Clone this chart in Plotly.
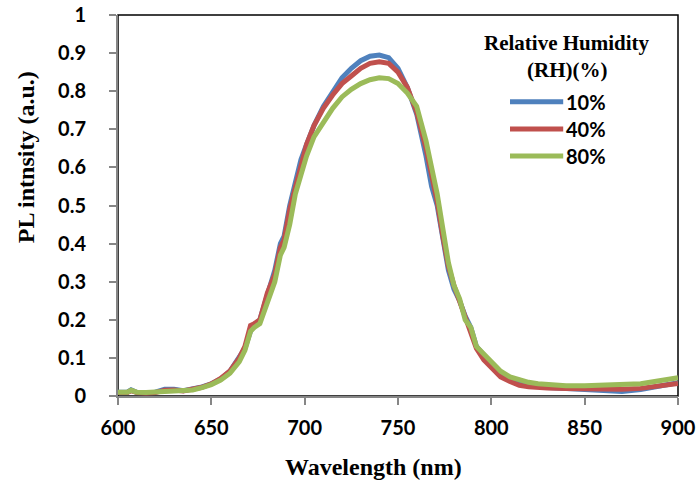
import plotly.graph_objects as go

# wavelength grid (nm)
wl = [600, 605, 607, 610, 615, 620, 625, 630, 635, 640, 645, 650, 655, 660, 665, 668,
      671, 673, 676, 680, 684, 687, 689, 692, 695, 698, 701, 705, 710, 715, 720, 725,
      730, 735, 740, 745, 750, 755, 760, 765, 768, 771, 774, 777, 780, 783, 786, 789,
      792, 796, 800, 805, 810, 815, 820, 825, 830, 840, 850, 860, 870, 880, 890, 900]

# PL intensity (a.u.) for each relative humidity
rh10 = [0.010, 0.010, 0.016, 0.010, 0.009, 0.010, 0.018, 0.018, 0.014, 0.018, 0.024, 0.032,
        0.045, 0.065, 0.100, 0.125, 0.170, 0.185, 0.200, 0.270, 0.330, 0.400, 0.420, 0.500,
        0.560, 0.620, 0.660, 0.710, 0.760, 0.800, 0.835, 0.860, 0.880, 0.892, 0.895, 0.888,
        0.860, 0.810, 0.740, 0.630, 0.550, 0.500, 0.410, 0.330, 0.280, 0.250, 0.210, 0.180,
        0.130, 0.105, 0.085, 0.060, 0.045, 0.035, 0.030, 0.025, 0.022, 0.020, 0.018, 0.013,
        0.012, 0.017, 0.025, 0.035]
rh40 = [0.009, 0.009, 0.014, 0.009, 0.008, 0.009, 0.015, 0.016, 0.013, 0.017, 0.023, 0.032,
        0.046, 0.066, 0.100, 0.130, 0.185, 0.190, 0.200, 0.270, 0.320, 0.390, 0.410, 0.490,
        0.550, 0.610, 0.660, 0.710, 0.755, 0.790, 0.820, 0.840, 0.860, 0.873, 0.877, 0.873,
        0.850, 0.810, 0.745, 0.650, 0.580, 0.510, 0.420, 0.340, 0.290, 0.250, 0.210, 0.170,
        0.125, 0.095, 0.075, 0.050, 0.038, 0.028, 0.024, 0.022, 0.021, 0.020, 0.019, 0.018,
        0.018, 0.020, 0.025, 0.033]
rh80 = [0.010, 0.010, 0.015, 0.010, 0.009, 0.010, 0.014, 0.015, 0.013, 0.016, 0.022, 0.030,
        0.042, 0.060, 0.090, 0.120, 0.170, 0.180, 0.190, 0.250, 0.300, 0.370, 0.390, 0.450,
        0.530, 0.580, 0.630, 0.680, 0.720, 0.755, 0.785, 0.805, 0.820, 0.830, 0.835, 0.833,
        0.820, 0.795, 0.760, 0.670, 0.600, 0.530, 0.440, 0.350, 0.290, 0.255, 0.200, 0.180,
        0.130, 0.110, 0.090, 0.065, 0.050, 0.042, 0.036, 0.032, 0.030, 0.027, 0.027, 0.028,
        0.029, 0.032, 0.040, 0.048]

labels = ['10%', '40%', '80%']
colors = ['#4F81BD', '#C0504D', '#9BBB59']

fig = go.Figure()
for ys, name, c in zip([rh10, rh40, rh80], labels, colors):
    fig.add_trace(go.Scatter(x=wl, y=ys, mode='lines', name=name,
                             line=dict(color=c, width=5), showlegend=False))

tickfont = dict(family='Lato', size=20, color='black', weight='bold')
titlefont = dict(family='Liberation Serif', size=24, color='black', weight='bold')

fig.update_xaxes(range=[600, 900], dtick=50, showline=True, linecolor='#868686', linewidth=2,
                 ticks='outside', ticklen=7, tickcolor='#868686', tickwidth=2,
                 showgrid=False, zeroline=False, tickfont=tickfont, automargin=False,
                 ticklabeloverflow='allow', ticklabelstandoff=6)
fig.update_yaxes(range=[0, 1], dtick=0.1, showline=True, linecolor='#868686', linewidth=2,
                 ticks='outside', ticklen=7, tickcolor='#868686', tickwidth=2,
                 showgrid=False, zeroline=False, tickfont=tickfont, automargin=False,
                 ticklabeloverflow='allow', ticklabelstandoff=19)

# axis titles (placed as in the original, not centred on the axes)
fig.add_annotation(xref='paper', yref='paper', x=-0.164, y=0.627, xanchor='center',
                   yanchor='middle', textangle=-90, text='PL intnsity (a.u.)',
                   showarrow=False, font=titlefont)
fig.add_annotation(xref='paper', yref='paper', x=0.457, y=-0.186, xanchor='center',
                   yanchor='middle', text='Wavelength (nm)', showarrow=False, font=titlefont)

# plot-area border (black on top/right)
fig.add_shape(type='rect', xref='paper', yref='paper', x0=0, x1=1, y0=0, y1=1,
              line=dict(color='black', width=1.5), layer='below')

# legend drawn by hand, Excel style
legfont = dict(family='Liberation Serif', size=21, color='black', weight='bold')
fig.add_annotation(xref='paper', yref='paper', x=0.802, y=0.927, xanchor='center',
                   yanchor='middle', text='Relative Humidity', showarrow=False, font=legfont)
fig.add_annotation(xref='paper', yref='paper', x=0.802, y=0.856, xanchor='center',
                   yanchor='middle', text='(RH)(%)', showarrow=False, font=legfont)
leg_y = [0.772, 0.701, 0.630]
for name, c, ly in zip(labels, colors, leg_y):
    fig.add_shape(type='line', xref='paper', yref='paper', x0=0.70, x1=0.795, y0=ly, y1=ly,
                  line=dict(color=c, width=5))
    fig.add_annotation(xref='paper', yref='paper', x=0.797, y=ly, xanchor='left',
                       yanchor='middle', text=name, showarrow=False,
                       font=dict(family='Lato', size=20, color='black', weight='bold'))

fig.update_layout(width=697, height=482, plot_bgcolor='white', paper_bgcolor='white',
                  margin=dict(l=118, r=19, t=15, b=86))

# drop the default 8px page margin so the figure fills the window
fig.write_html("out.html", config={'displayModeBar': False},
               post_script="document.body.style.margin='0';")
